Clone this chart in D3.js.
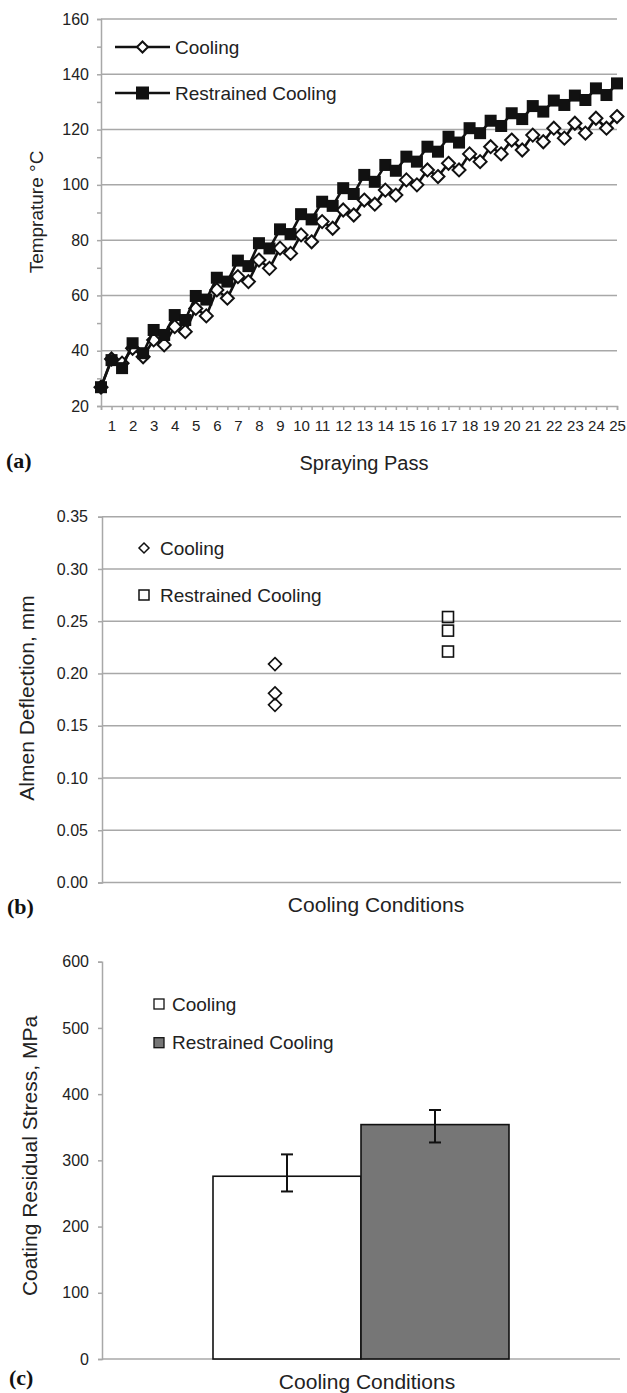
<!DOCTYPE html>
<html>
<head>
<meta charset="utf-8">
<script src="https://cdn.jsdelivr.net/npm/d3@7/dist/d3.min.js"></script>
<style>
  html, body { margin: 0; padding: 0; background: #fff; }
  svg { display: block; }
  text { font-family: "Liberation Sans", Arial, sans-serif; fill: #222; }
  .panel { font-family: "Liberation Serif", "Times New Roman", serif; font-weight: bold; fill: #111; }
</style>
</head>
<body>
<script>
// ---------- Data ----------
// (a) temperature per spraying pass (half-pass points: start, then peak/dip pairs)
const passTickLabels = ["1","2","3","4","5","6","7","8","9","10","11","12","13","14","15","16","17","18","19","20","21","22","23","24","25"];
const coolingTemp = [26.8, 37, 35.5, 40.9, 37.8, 43.9, 42.1, 48.7, 46.9, 55.3, 52.6, 62.0, 59.0, 66.8, 65.0, 72.8, 69.8, 77.1, 75.2, 81.9, 79.4, 86.7, 84.3, 90.9, 89.1, 94.5, 93.0, 98.1, 96.3, 101.8, 100.0, 105.4, 103.0, 107.8, 105.4, 111.2, 108.4, 113.8, 111.2, 116.2, 112.6, 118.0, 115.6, 120.5, 116.9, 122.3, 118.7, 124.1, 120.5, 124.7];
const restrainedTemp = [26.8, 36.6, 33.7, 42.7, 39.1, 47.5, 45.7, 52.9, 51.1, 59.8, 58.5, 66.4, 65.0, 72.6, 70.6, 78.9, 77.0, 83.9, 82.2, 89.4, 87.5, 93.9, 92.4, 98.8, 96.7, 103.6, 101.1, 107.2, 105.1, 110.2, 108.4, 113.8, 112.0, 117.4, 115.3, 120.5, 118.7, 123.2, 121.3, 125.9, 123.8, 128.5, 126.5, 130.5, 128.9, 132.3, 130.7, 134.9, 132.5, 136.7];
const tempTicks = [20, 40, 60, 80, 100, 120, 140, 160];

// (b) Almen deflection
const seriesNames = ["Cooling", "Restrained Cooling"];
const almenCooling = [0.209, 0.181, 0.170];
const almenRestrained = [0.254, 0.241, 0.221];
const almenTicks = [0, 0.05, 0.10, 0.15, 0.20, 0.25, 0.30, 0.35];

// (c) residual stress
const stressCategory = ["Cooling Conditions"];
const stressMean = [276, 354];
const stressLow = [253, 327];
const stressHigh = [309, 376];
const stressTicks = [0, 100, 200, 300, 400, 500, 600];

// ---------- Setup ----------
const W = 627, H = 1393;
const svg = d3.select("body").append("svg").attr("width", W).attr("height", H);
svg.append("rect").attr("width", W).attr("height", H).attr("fill", "#fff");

const GRID = "#a8a8a8";
const INK = "#111";

function diamondPath(cx, cy, r) {
  return `M${cx},${cy - r}L${cx + r},${cy}L${cx},${cy + r}L${cx - r},${cy}Z`;
}

// ================= Chart (a) =================
{
  const g = svg.append("g");
  const x = d3.scaleLinear().domain([0, coolingTemp.length - 1]).range([101, 617]);
  const y = d3.scaleLinear().domain([20, 160]).range([406, 19]);

  // gridlines
  g.selectAll(".grid").data(tempTicks.slice(1)).enter().append("line")
    .attr("x1", 101).attr("x2", 617).attr("y1", d => y(d)).attr("y2", d => y(d))
    .attr("stroke", GRID).attr("stroke-width", 1.5);

  // y axis
  const yAxis = d3.axisLeft(y).tickValues(d3.range(20, 161, 10)).tickSize(4)
    .tickFormat(d => tempTicks.includes(d) ? d : "");
  const ya = g.append("g").attr("transform", "translate(101,0)").call(yAxis);
  ya.select(".domain").attr("stroke", GRID).attr("stroke-width", 1.5);
  ya.selectAll(".tick line").attr("stroke", GRID).attr("stroke-width", 1.5);
  ya.selectAll(".tick text").attr("x", -12).attr("font-size", 16).attr("fill", "#222")
    .attr("font-family", "Liberation Sans, Arial, sans-serif");

  // x axis
  const xAxis = d3.axisBottom(x).tickValues(d3.range(0, coolingTemp.length)).tickSize(4)
    .tickFormat(d => (d % 2 === 1) ? passTickLabels[(d - 1) / 2] : "");
  const xa = g.append("g").attr("transform", "translate(0,406)").call(xAxis);
  xa.select(".domain").attr("stroke", GRID).attr("stroke-width", 1.5);
  xa.selectAll(".tick line").attr("stroke", GRID).attr("stroke-width", 1.5);
  xa.selectAll(".tick text").attr("y", 16).attr("dy", "0.71em").attr("font-size", 15).attr("fill", "#222")
    .attr("font-family", "Liberation Sans, Arial, sans-serif");
  xa.selectAll(".tick text").attr("y", 14);

  const line = d3.line().x((d, i) => x(i)).y(d => y(d));

  // cooling series (drawn first)
  g.append("path").datum(coolingTemp).attr("d", line).attr("fill", "none")
    .attr("stroke", INK).attr("stroke-width", 2.6).attr("stroke-linejoin", "round");
  g.selectAll(".cd").data(coolingTemp).enter().append("path")
    .attr("d", (d, i) => diamondPath(x(i), y(d), 6.5))
    .attr("fill", "#fff").attr("stroke", INK).attr("stroke-width", 2);

  // restrained series
  g.append("path").datum(restrainedTemp).attr("d", line).attr("fill", "none")
    .attr("stroke", INK).attr("stroke-width", 2.6).attr("stroke-linejoin", "round");
  g.selectAll(".rs").data(restrainedTemp).enter().append("rect")
    .attr("x", (d, i) => x(i) - 6).attr("y", d => y(d) - 6)
    .attr("width", 12).attr("height", 12).attr("fill", INK);

  // legend
  const lg = g.append("g");
  [47, 93].forEach((ly, k) => {
    lg.append("line").attr("x1", 115).attr("x2", 170).attr("y1", ly).attr("y2", ly)
      .attr("stroke", INK).attr("stroke-width", 2.6);
    if (k === 0) {
      lg.append("path").attr("d", diamondPath(142.5, ly, 5.5)).attr("fill", "#fff")
        .attr("stroke", INK).attr("stroke-width", 2);
    } else {
      lg.append("rect").attr("x", 136).attr("y", ly - 6.5).attr("width", 13).attr("height", 13).attr("fill", INK);
    }
    lg.append("text").attr("x", 175).attr("y", ly).attr("dy", "0.35em")
      .attr("font-size", 19).text(seriesNames[k]);
  });

  // titles
  g.append("text").attr("x", 364).attr("y", 463).attr("dy", "0.35em").attr("text-anchor", "middle")
    .attr("font-size", 20).text("Spraying Pass");
  g.append("text").attr("transform", "translate(36,212) rotate(-90)").attr("dy", "0.35em")
    .attr("text-anchor", "middle").attr("font-size", 19).text("Temprature °C");
  g.append("text").attr("class", "panel").attr("x", 6).attr("y", 460).attr("dy", "0.35em")
    .attr("font-size", 22).text("(a)");
}

// ================= Chart (b) =================
{
  const g = svg.append("g");
  const x = d3.scaleLinear().domain([0, 3]).range([102, 621]);
  const y = d3.scaleLinear().domain([0, 0.35]).range([882.5, 516.7]);

  g.selectAll(".grid").data(almenTicks.slice(1)).enter().append("line")
    .attr("x1", 102).attr("x2", 621).attr("y1", d => y(d)).attr("y2", d => y(d))
    .attr("stroke", GRID).attr("stroke-width", 1.5);

  const yAxis = d3.axisLeft(y).tickValues(almenTicks).tickSize(4).tickFormat(d3.format(".2f"));
  const ya = g.append("g").attr("transform", "translate(102,0)").call(yAxis);
  ya.select(".domain").attr("stroke", GRID).attr("stroke-width", 1.5);
  ya.selectAll(".tick line").attr("stroke", GRID).attr("stroke-width", 1.5);
  ya.selectAll(".tick text").attr("x", -14).attr("font-size", 16).attr("fill", "#222")
    .attr("font-family", "Liberation Sans, Arial, sans-serif");

  g.append("line").attr("x1", 102).attr("x2", 621).attr("y1", y(0)).attr("y2", y(0))
    .attr("stroke", GRID).attr("stroke-width", 1.5);

  g.selectAll(".bd").data(almenCooling).enter().append("path")
    .attr("d", d => diamondPath(x(1), y(d), 6.5))
    .attr("fill", "none").attr("stroke", INK).attr("stroke-width", 1.6);
  g.selectAll(".bs").data(almenRestrained).enter().append("rect")
    .attr("x", x(2) - 5.5).attr("y", d => y(d) - 5.5).attr("width", 11).attr("height", 11)
    .attr("fill", "none").attr("stroke", INK).attr("stroke-width", 1.6);

  // legend
  g.append("path").attr("d", diamondPath(144, 548, 5)).attr("fill", "none").attr("stroke", INK).attr("stroke-width", 1.5);
  g.append("text").attr("x", 160).attr("y", 548).attr("dy", "0.35em").attr("font-size", 19).text(seriesNames[0]);
  g.append("rect").attr("x", 139).attr("y", 590).attr("width", 10).attr("height", 10)
    .attr("fill", "none").attr("stroke", INK).attr("stroke-width", 1.5);
  g.append("text").attr("x", 160).attr("y", 595).attr("dy", "0.35em").attr("font-size", 19).text(seriesNames[1]);

  g.append("text").attr("x", 376).attr("y", 905).attr("dy", "0.35em").attr("text-anchor", "middle")
    .attr("font-size", 21).text("Cooling Conditions");
  g.append("text").attr("transform", "translate(27,698) rotate(-90)").attr("dy", "0.35em")
    .attr("text-anchor", "middle").attr("font-size", 21).text("Almen Deflection, mm");
  g.append("text").attr("class", "panel").attr("x", 7).attr("y", 906).attr("dy", "0.35em")
    .attr("font-size", 22).text("(b)");
}

// ================= Chart (c) =================
{
  const g = svg.append("g");
  const x0 = d3.scaleBand().domain(stressCategory).range([102, 620]).paddingInner(0).paddingOuter(0.375);
  const x1 = d3.scaleBand().domain(seriesNames).range([0, x0.bandwidth()]);
  const y = d3.scaleLinear().domain([0, 600]).range([1359, 961.7]);

  const yAxis = d3.axisLeft(y).tickValues(stressTicks).tickSize(4);
  const ya = g.append("g").attr("transform", "translate(102,0)").call(yAxis);
  ya.select(".domain").attr("stroke", GRID).attr("stroke-width", 1.5);
  ya.selectAll(".tick line").attr("stroke", GRID).attr("stroke-width", 1.5);
  ya.selectAll(".tick text").attr("x", -13).attr("font-size", 16).attr("fill", "#222")
    .attr("font-family", "Liberation Sans, Arial, sans-serif");

  g.append("line").attr("x1", 102).attr("x2", 620).attr("y1", y(0)).attr("y2", y(0))
    .attr("stroke", GRID).attr("stroke-width", 1.5);

  const fills = ["#ffffff", "#767676"];
  const bx = i => x0(stressCategory[0]) + x1(seriesNames[i]);
  g.selectAll(".bar").data(stressMean).enter().append("rect")
    .attr("x", (d, i) => bx(i)).attr("y", d => y(d))
    .attr("width", x1.bandwidth()).attr("height", d => y(0) - y(d))
    .attr("fill", (d, i) => fills[i]).attr("stroke", INK).attr("stroke-width", 1.6);

  stressMean.forEach((d, i) => {
    const cx = bx(i) + x1.bandwidth() / 2;
    g.append("line").attr("x1", cx).attr("x2", cx).attr("y1", y(stressLow[i])).attr("y2", y(stressHigh[i]))
      .attr("stroke", INK).attr("stroke-width", 2);
    [stressLow[i], stressHigh[i]].forEach(v => {
      g.append("line").attr("x1", cx - 6).attr("x2", cx + 6).attr("y1", y(v)).attr("y2", y(v))
        .attr("stroke", INK).attr("stroke-width", 2);
    });
  });

  // legend
  [1004, 1042.7].forEach((ly, k) => {
    g.append("rect").attr("x", 154).attr("y", ly - 5).attr("width", 10).attr("height", 10)
      .attr("fill", fills[k]).attr("stroke", INK).attr("stroke-width", 1.3);
    g.append("text").attr("x", 172).attr("y", ly).attr("dy", "0.35em").attr("font-size", 19).text(seriesNames[k]);
  });

  g.append("text").attr("x", 367).attr("y", 1381.7).attr("dy", "0.35em").attr("text-anchor", "middle")
    .attr("font-size", 21).text("Cooling Conditions");
  g.append("text").attr("transform", "translate(30,1156) rotate(-90)").attr("dy", "0.35em")
    .attr("text-anchor", "middle").attr("font-size", 21).text("Coating Residual Stress, MPa");
  g.append("text").attr("class", "panel").attr("x", 9).attr("y", 1377).attr("dy", "0.35em")
    .attr("font-size", 22).text("(c)");
}
</script>
</body>
</html>
